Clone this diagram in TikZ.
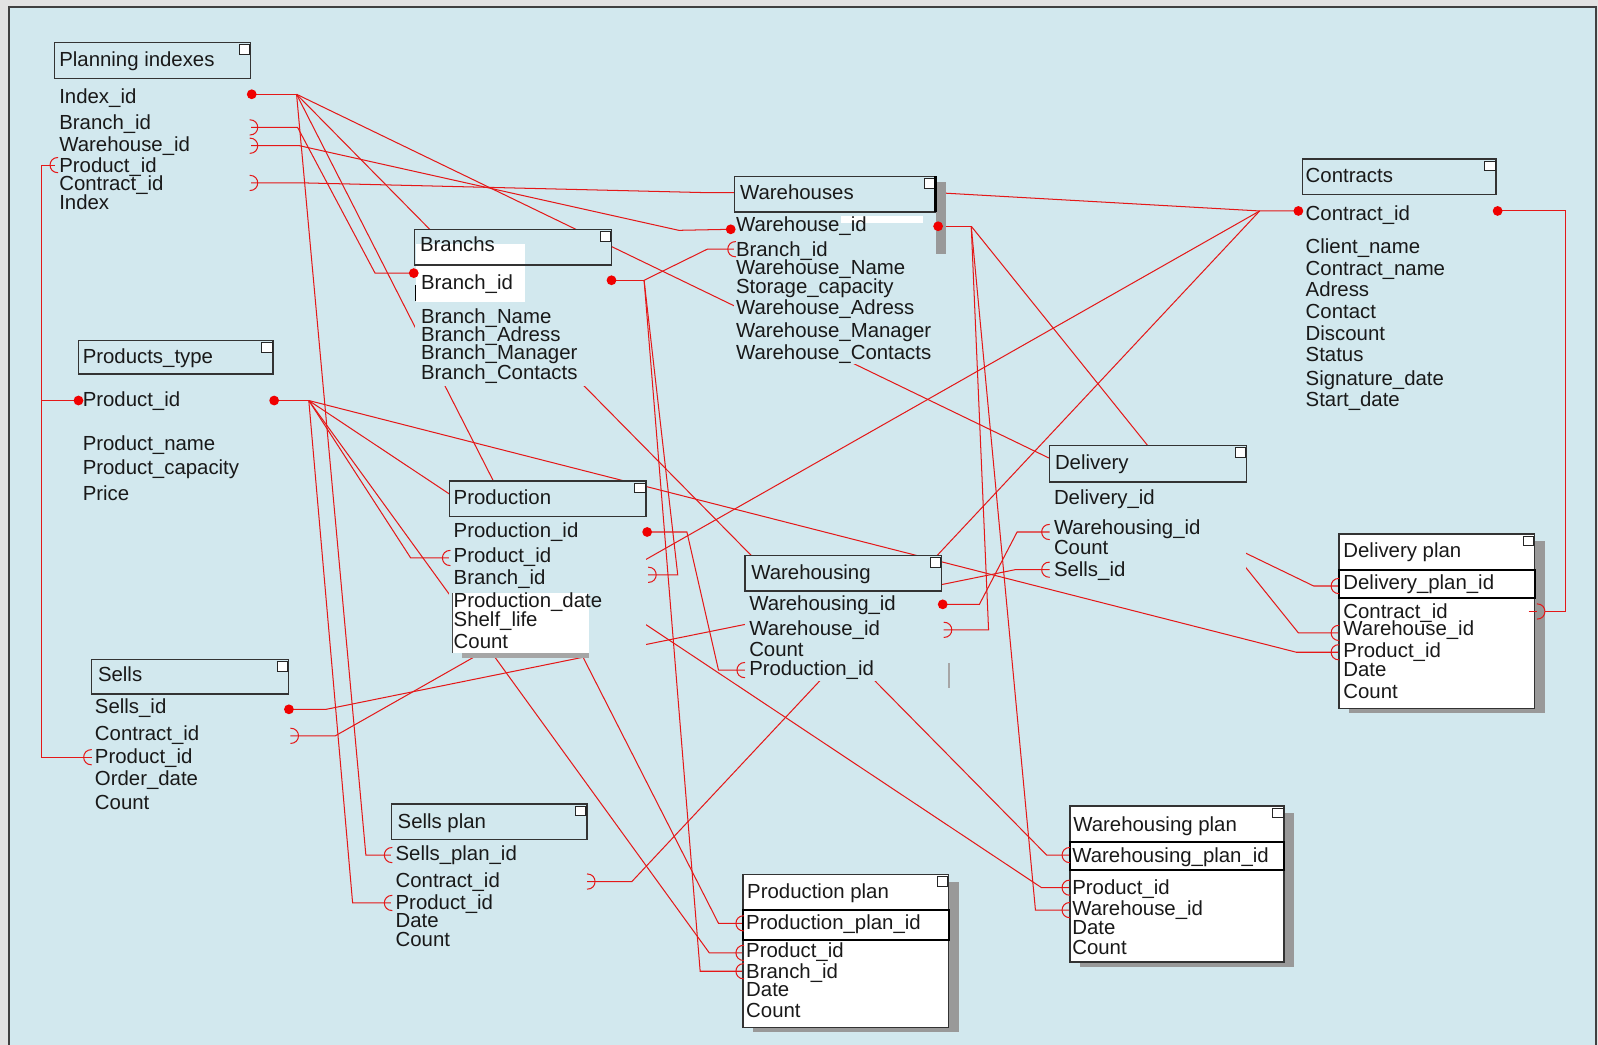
\documentclass[tikz,border=0pt]{standalone}
\usepackage{fontspec}
\setmainfont{Liberation Sans}
\usetikzlibrary{calc}
\definecolor{bgblue}{RGB}{210,232,238}
\definecolor{framegray}{RGB}{226,226,226}
\definecolor{lred}{RGB}{228,24,24}
\definecolor{dred}{RGB}{240,0,0}
\definecolor{txt}{RGB}{25,25,25}
\tikzset{
 rl/.style={draw=lred, line width=1pt},
 hdr/.style={draw=black!80, line width=1.3pt},
 icon/.style={draw=black!85, fill=white, line width=1pt},
 fld/.style={anchor=base west, inner sep=0pt, text=txt, font=\fontsize{20}{22}\selectfont},
 dotmark/.style={fill=dred},
 shade/.style={fill=black!40},
}
\newcommand\crowL[1]{\draw[rl] ($(#1)+(0,-7.5)$) .. controls ($(#1)+(-10.5,-7.5)$) and ($(#1)+(-10.5,7.5)$) .. ($(#1)+(0,7.5)$);}
\newcommand\crowR[1]{\draw[rl] ($(#1)+(0,-7.5)$) .. controls ($(#1)+(10.5,-7.5)$) and ($(#1)+(10.5,7.5)$) .. ($(#1)+(0,7.5)$);}
\newcommand\dotm[1]{\fill[dotmark] (#1) circle[radius=4.8pt];}
% x1 y1 x2 yhead ybottom
\newcommand\entfill[5]{\fill[bgblue] (#1,#2) rectangle (#3,#5);}
\newcommand\enthead[4]{\draw[hdr] (#1,#2) rectangle (#3,#4);
 \draw[icon] ({#3-11},{#2+2.5}) rectangle ({#3-1},{#2+11.5});}
% x1 y1 x2 y2 ysep ypk
\newcommand\planbox[6]{\fill[shade] ({#1+10},{#2+7}) rectangle ({#3+10},{#4+5});
 \fill[white] (#1,#2) rectangle (#3,#4);
 \draw[hdr] (#1,#2) rectangle (#3,#4);
 \draw[black, line width=1.8pt] (#1,#5) rectangle (#3,#6);
 \draw[icon] ({#3-11},{#2+2.5}) rectangle ({#3-1},{#2+11.5});}
\begin{document}
\begin{tikzpicture}[x=1pt,y=-1pt]
\useasboundingbox (0,0) rectangle (1568,1025);
\fill[framegray] (0,0) rectangle (1568,1025);
\fill[bgblue] (9,7) rectangle (1566,1025);
\draw[black!75, line width=1.6pt] (9,1025) -- (9,7) -- (1566,7) -- (1566,1025);

% junctions
\coordinate (ix) at (291,92.5);
\coordinate (bx) at (292,125);
\coordinate (wx) at (294,143);
\coordinate (px) at (303,393);
\coordinate (rx) at (632,275);
\coordinate (hx) at (953,222);
\coordinate (cx) at (1236,207);
\coordinate (sx) at (320,696);
% end points: dots
\coordinate (d-pi) at (247,92.5);
\coordinate (d-ptl) at (77,393);
\coordinate (d-ptr) at (269,393);
\coordinate (d-brl) at (406,268);
\coordinate (d-brr) at (600,275);
\coordinate (d-whl) at (717,225);
\coordinate (d-whr) at (920.5,222);
\coordinate (d-ctl) at (1274,207);
\coordinate (d-ctr) at (1469.5,207);
\coordinate (d-pd) at (635,522);
\coordinate (d-ws) at (925,593);
\coordinate (d-se) at (283.5,696);
% end points: crows
\coordinate (c-pibr) at (245,125);
\coordinate (c-piwh) at (245,143);
\coordinate (c-pict) at (245,179.5);
\coordinate (c-pipr) at (57,162);
\coordinate (c-whbr) at (722,244.5);
\coordinate (c-pdpr) at (442,547.5);
\coordinate (c-pdbr) at (636,564);
\coordinate (c-wswh) at (926,618);
\coordinate (c-wspd) at (731,657.5);
\coordinate (c-dlws) at (1030,522);
\coordinate (c-dlse) at (1030,559);
\coordinate (c-sect) at (285,722);
\coordinate (c-sepr) at (90,743);
\coordinate (c-spid) at (385,839);
\coordinate (c-spct) at (576,865);
\coordinate (c-sppr) at (385,886);
\coordinate (c-ppid) at (730,906);
\coordinate (c-pppr) at (730,935);
\coordinate (c-ppbr) at (730,953);
\coordinate (c-wpid) at (1050,839);
\coordinate (c-wppr) at (1050,871);
\coordinate (c-wpwh) at (1050,893);
\coordinate (c-dpid) at (1314,575);
\coordinate (c-dpwh) at (1314,621);
\coordinate (c-dppr) at (1314,640);
\coordinate (c-dpct) at (1508,600);
\coordinate (dpin) at (1500,600);
% elbows
\coordinate (e1) at (1289,575);
\coordinate (e2) at (1027,839);
\coordinate (e3) at (705,906);
\coordinate (e4) at (359,839);
\coordinate (e5) at (368,268);
\coordinate (e6) at (666,226);
\coordinate (e7a) at (300,179.5);
\coordinate (e7b) at (692,189);
\coordinate (e7c) at (918,189);
\coordinate (e8) at (329,722);
\coordinate (e9) at (620,865);
\coordinate (e10) at (403,547.5);
\coordinate (e11) at (696,935);
\coordinate (e12) at (1022,871);
\coordinate (e13) at (1272,640);
\coordinate (e14) at (346,886);
\coordinate (bus1) at (41,162);
\coordinate (bus2) at (41,393);
\coordinate (bus3) at (41,743);
\coordinate (e15) at (694,244.5);
\coordinate (e16) at (665,564);
\coordinate (e17) at (687,953);
\coordinate (e18) at (1274,621);
\coordinate (e19) at (970,618);
\coordinate (e20) at (1016,893);
\coordinate (e21) at (674,522);
\coordinate (e22) at (705,657.5);
\coordinate (e23) at (961,593);
\coordinate (e24) at (998,522);
\coordinate (e25) at (996,559);
\coordinate (e26) at (1536,207);
\coordinate (e27) at (1536,600);

% connectors
\draw[rl] (d-pi) -- (ix);
\draw[rl] (ix) -- (e1) -- (c-dpid);
\draw[rl] (ix) -- (e2) -- (c-wpid);
\draw[rl] (ix) -- (e3) -- (c-ppid);
\draw[rl] (ix) -- (e4) -- (c-spid);
\draw[rl] (c-pibr) -- (bx) -- (e5) -- (d-brl);
\draw[rl] (c-piwh) -- (wx) -- (e6) -- (d-whl);
\draw[rl] (c-pict) -- (e7a) -- (e7b) -- (e7c) -- (cx) -- (d-ctl);
\draw[rl] (c-sect) -- (e8) -- (cx);
\draw[rl] (c-spct) -- (e9) -- (cx);
\draw[rl] (d-ptr) -- (px);
\draw[rl] (px) -- (e10) -- (c-pdpr);
\draw[rl] (px) -- (e11) -- (c-pppr);
\draw[rl] (px) -- (e12) -- (c-wppr);
\draw[rl] (px) -- (e13) -- (c-dppr);
\draw[rl] (px) -- (e14) -- (c-sppr);
\draw[rl] (c-pipr) -- (bus1) -- (bus3) -- (c-sepr);
\draw[rl] (bus2) -- (d-ptl);
\draw[rl] (d-brr) -- (rx);
\draw[rl] (rx) -- (e15) -- (c-whbr);
\draw[rl] (rx) -- (e16) -- (c-pdbr);
\draw[rl] (rx) -- (e17) -- (c-ppbr);
\draw[rl] (d-whr) -- (hx);
\draw[rl] (hx) -- (e18) -- (c-dpwh);
\draw[rl] (hx) -- (e19) -- (c-wswh);
\draw[rl] (hx) -- (e20) -- (c-wpwh);
\draw[rl] (d-pd) -- (e21) -- (e22) -- (c-wspd);
\draw[rl] (d-ws) -- (e23) -- (e24) -- (c-dlws);
\draw[rl] (d-se) -- (sx) -- (e25) -- (c-dlse);
\draw[rl] (d-ctr) -- (e26) -- (e27) -- (c-dpct);

% opaque entity areas
\entfill{53.5}{41.5}{246}{77}{210}
\entfill{77}{334}{268}{367}{495}
\entfill{407}{225}{600}{260}{379}
\entfill{720}{173}{918}{208}{357}
\entfill{1278}{156}{1468}{191}{400}
\entfill{441}{472}{634}{507}{646}
\entfill{731}{545}{924}{580}{668}
\entfill{1030}{437}{1223}{473}{570}
\entfill{90}{647}{283}{681}{797}
\entfill{384}{789}{576}{824}{932}

% white patches and shadows
\fill[white] (408,239) rectangle (515,296);
\fill[white] (825,212) rectangle (906,219);
\fill[white] (443.5,582) rectangle (578,641);
\draw[black!70, line width=0.8pt] (443.5,582) -- (443.5,641);
\fill[black!35] (453,641) rectangle (578,646);
\fill[black!40] (918,179) rectangle (928,249);
\fill[black!35] (930,651) rectangle (932,675);
\draw[black, line width=1.2pt] (407.5,280) -- (407.5,295);

% header boxes
\enthead{53.5}{41.5}{246}{77}
\enthead{77}{334}{268}{367}
\enthead{407}{225}{600}{260}
\enthead{721}{173}{918}{208}
\draw[black, line width=2.4pt] (918,173) -- (918,208);
\enthead{1278}{156}{1468}{191}
\enthead{441}{472}{634}{507}
\enthead{731}{545}{924}{580}
\enthead{1030}{437}{1223}{473}
\enthead{90}{647}{283}{681}
\enthead{384}{789}{576}{824}

% plan entities
\planbox{729}{858}{931}{1008}{893}{922}
\planbox{1050}{791}{1260}{944}{826}{854}
\planbox{1314}{524}{1506}{695}{559}{587}

% texts
\node[fld] (t-pi) at (58,65) {Planning indexes};
\node[fld] (f-pi1) at (58,102) {Index\_id};
\node[fld] (f-pi2) at (58,127) {Branch\_id};
\node[fld] (f-pi3) at (58,149) {Warehouse\_id};
\node[fld] (f-pi4) at (58,169) {Product\_id};
\node[fld] (f-pi5) at (58,187) {Contract\_id};
\node[fld] (f-pi6) at (58,206) {Index};

\node[fld] (t-pt) at (81,357) {Products\_type};
\node[fld] (f-pt1) at (81,399) {Product\_id};
\node[fld] (f-pt2) at (81,442) {Product\_name};
\node[fld] (f-pt3) at (81,466) {Product\_capacity};
\node[fld] (f-pt4) at (81,491) {Price};

\node[fld] (t-br) at (412,247) {Branchs};
\node[fld] (f-br1) at (413,284) {Branch\_id};
\node[fld] (f-br2) at (413,317) {Branch\_Name};
\node[fld] (f-br3) at (413,335) {Branch\_Adress};
\node[fld] (f-br4) at (413,353) {Branch\_Manager};
\node[fld] (f-br5) at (413,372) {Branch\_Contacts};

\node[fld] (t-wh) at (726,196) {Warehouses};
\node[fld] (f-wh1) at (722,227) {Warehouse\_id};
\node[fld] (f-wh2) at (722,252) {Branch\_id};
\node[fld] (f-wh3) at (722,269) {Warehouse\_Name};
\node[fld] (f-wh4) at (722,288) {Storage\_capacity};
\node[fld] (f-wh5) at (722,309) {Warehouse\_Adress};
\node[fld] (f-wh6) at (722,331) {Warehouse\_Manager};
\node[fld] (f-wh7) at (722,353) {Warehouse\_Contacts};

\node[fld] (t-ct) at (1281,179) {Contracts};
\node[fld] (f-ct1) at (1281,216) {Contract\_id};
\node[fld] (f-ct2) at (1281,249) {Client\_name};
\node[fld] (f-ct3) at (1281,270) {Contract\_name};
\node[fld] (f-ct4) at (1281,291) {Adress};
\node[fld] (f-ct5) at (1281,313) {Contact};
\node[fld] (f-ct6) at (1281,334) {Discount};
\node[fld] (f-ct7) at (1281,355) {Status};
\node[fld] (f-ct8) at (1281,378) {Signature\_date};
\node[fld] (f-ct9) at (1281,399) {Start\_date};

\node[fld] (t-pd) at (445,495) {Production};
\node[fld] (f-pd1) at (445,527) {Production\_id};
\node[fld] (f-pd2) at (445,552) {Product\_id};
\node[fld] (f-pd3) at (445,574) {Branch\_id};
\node[fld] (f-pd4) at (445,596) {Production\_date};
\node[fld] (f-pd5) at (445,615) {Shelf\_life};
\node[fld] (f-pd6) at (445,636) {Count};

\node[fld] (t-ws) at (737,569) {Warehousing};
\node[fld] (f-ws1) at (735,599) {Warehousing\_id};
\node[fld] (f-ws2) at (735,624) {Warehouse\_id};
\node[fld] (f-ws3) at (735,644) {Count};
\node[fld] (f-ws4) at (735,663) {Production\_id};

\node[fld] (t-dl) at (1035,461) {Delivery};
\node[fld] (f-dl1) at (1034,495) {Delivery\_id};
\node[fld] (f-dl2) at (1034,524) {Warehousing\_id};
\node[fld] (f-dl3) at (1034,544) {Count};
\node[fld] (f-dl4) at (1034,566) {Sells\_id};

\node[fld] (t-dp) at (1318,547) {Delivery plan};
\node[fld] (f-dp1) at (1318,578) {Delivery\_plan\_id};
\node[fld] (f-dp2) at (1318,607) {Contract\_id};
\node[fld] (f-dp3) at (1318,624) {Warehouse\_id};
\node[fld] (f-dp4) at (1318,645) {Product\_id};
\node[fld] (f-dp5) at (1318,664) {Date};
\node[fld] (f-dp6) at (1318,685) {Count};

\node[fld] (t-se) at (96,669) {Sells};
\node[fld] (f-se1) at (93,700) {Sells\_id};
\node[fld] (f-se2) at (93,727) {Contract\_id};
\node[fld] (f-se3) at (93,749) {Product\_id};
\node[fld] (f-se4) at (93,771) {Order\_date};
\node[fld] (f-se5) at (93,794) {Count};

\node[fld] (t-sp) at (390,813) {Sells plan};
\node[fld] (f-sp1) at (388,844) {Sells\_plan\_id};
\node[fld] (f-sp2) at (388,871) {Contract\_id};
\node[fld] (f-sp3) at (388,892) {Product\_id};
\node[fld] (f-sp4) at (388,910) {Date};
\node[fld] (f-sp5) at (388,929) {Count};

\node[fld] (t-pp) at (733,882) {Production plan};
\node[fld] (f-pp1) at (732,912) {Production\_plan\_id};
\node[fld] (f-pp2) at (732,940) {Product\_id};
\node[fld] (f-pp3) at (732,960) {Branch\_id};
\node[fld] (f-pp4) at (732,978) {Date};
\node[fld] (f-pp5) at (732,998) {Count};

\node[fld] (t-wp) at (1053,816) {Warehousing plan};
\node[fld] (f-wp1) at (1052,846) {Warehousing\_plan\_id};
\node[fld] (f-wp2) at (1052,878) {Product\_id};
\node[fld] (f-wp3) at (1052,898) {Warehouse\_id};
\node[fld] (f-wp4) at (1052,917) {Date};
\node[fld] (f-wp5) at (1052,937) {Count};

% dots
\dotm{d-pi}\dotm{d-ptl}\dotm{d-ptr}\dotm{d-brl}\dotm{d-brr}\dotm{d-whl}
\dotm{d-whr}\dotm{d-ctl}\dotm{d-ctr}\dotm{d-pd}\dotm{d-ws}\dotm{d-se}
% crows
\crowR{c-pibr}\crowR{c-piwh}\crowR{c-pict}\crowL{c-pipr}
\crowL{c-whbr}\crowL{c-pdpr}\crowR{c-pdbr}\crowR{c-wswh}\crowL{c-wspd}
\crowL{c-dlws}\crowL{c-dlse}\crowR{c-sect}\crowL{c-sepr}
\crowL{c-spid}\crowR{c-spct}\crowL{c-sppr}
\crowL{c-ppid}\crowL{c-pppr}\crowL{c-ppbr}
\crowL{c-wpid}\crowL{c-wppr}\crowL{c-wpwh}
\crowL{c-dpid}\crowL{c-dpwh}\crowL{c-dppr}\crowR{c-dpct}
\draw[rl] (dpin) -- (c-dpct);
\end{tikzpicture}
\end{document}
